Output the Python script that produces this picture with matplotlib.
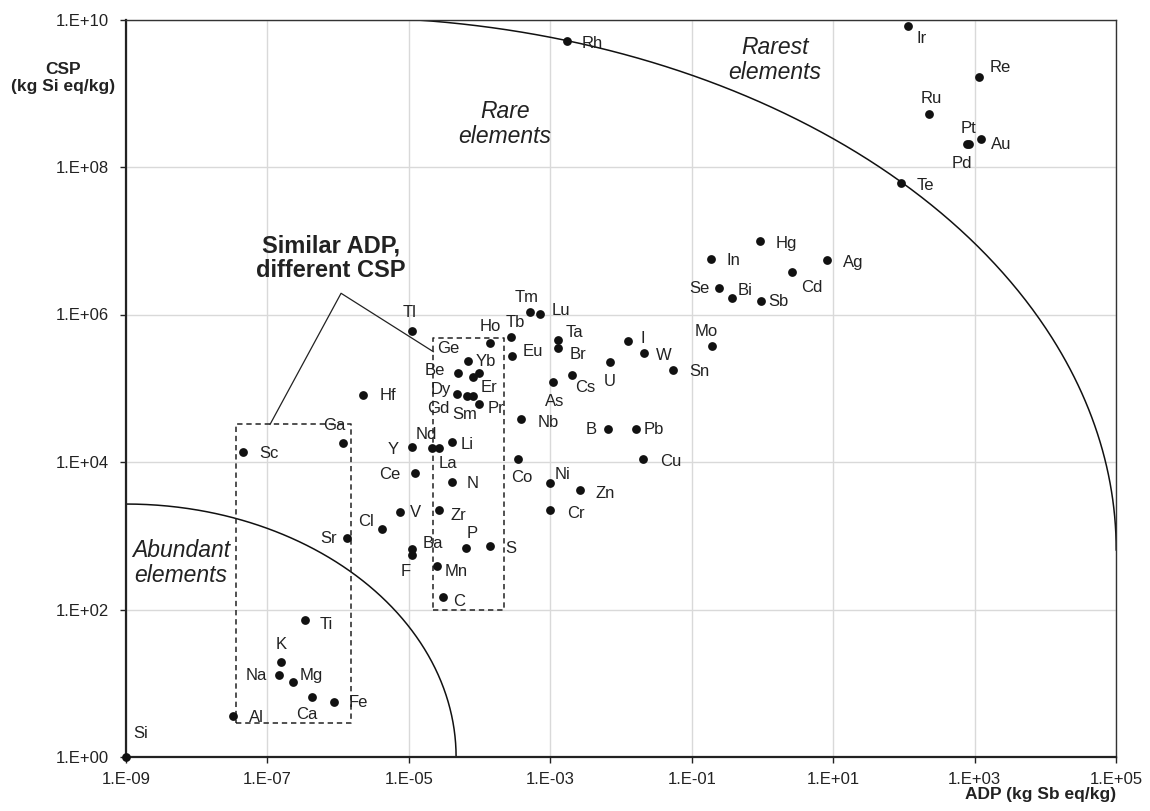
import numpy as np
import matplotlib
matplotlib.use("Agg")
import matplotlib.pyplot as plt
from matplotlib.ticker import FixedLocator, FuncFormatter, NullLocator

plt.rcParams['font.family'] = ['Liberation Sans', 'DejaVu Sans']

# ---------------- data ----------------
elements = ["Si", "Al", "Na", "K", "Mg", "Ti", "Ca", "Fe", "Sc", "Ga", "Sr", "Cl", "V",
            "Ba", "F", "Ce", "Y", "Tl", "Hf", "Nd", "La", "Li", "N", "Zr", "P", "S",
            "Mn", "C", "Co", "Ni", "Zn", "Cr", "Nb", "B", "Pb", "Cu", "As", "Cs", "U",
            "I", "W", "Sn", "Mo", "Ta", "Br", "Eu", "Tb", "Tm", "Lu", "Ho", "Ge", "Be",
            "Er", "Yb", "Dy", "Gd", "Sm", "Pr", "Hg", "In", "Ag", "Cd", "Se", "Bi", "Sb",
            "Rh", "Ir", "Re", "Ru", "Pt", "Pd", "Au", "Te"]
adp = [1e-9, 3.3e-8, 1.47e-7, 1.54e-7, 2.3e-7, 3.37e-7, 4.3e-7, 8.6e-7, 4.5e-8, 1.16e-6,
       1.32e-6, 4.2e-6, 7.5e-6, 1.11e-5, 1.11e-5, 1.22e-5, 1.1e-5, 1.1e-5, 2.25e-6,
       2.15e-5, 2.65e-5, 4.08e-5, 4.08e-5, 2.65e-5, 6.44e-5, 1.41e-4, 2.48e-5, 3.05e-5,
       3.47e-4, 9.9e-4, 2.64e-3, 9.9e-4, 3.86e-4, 6.5e-3, 1.62e-2, 2.07e-2, 1.1e-3,
       2.05e-3, 7.0e-3, 1.27e-2, 2.14e-2, 5.5e-2, 0.196, 1.28e-3, 1.28e-3, 2.91e-4,
       2.76e-4, 5.18e-4, 7.17e-4, 1.41e-4, 6.95e-5, 4.92e-5, 8.0e-5, 9.9e-5, 4.85e-5,
       6.6e-5, 8.0e-5, 9.9e-5, 0.91, 0.186, 8.2, 2.6, 0.247, 0.37, 0.95,
       1.71e-3, 114, 1150, 226, 778, 840, 1250, 91]
csp = [1.0, 3.6, 12.9, 19.6, 10.3, 71, 6.6, 5.6, 1.38e4, 1.83e4,
       940, 1220, 2120, 660, 543, 7160, 1.61e4, 6.0e5, 8.1e4,
       1.53e4, 1.53e4, 1.85e4, 5360, 2230, 676, 733, 393, 148,
       1.1e4, 5140, 4170, 2230, 3.87e4, 2.8e4, 2.8e4, 1.1e4, 1.22e5,
       1.51e5, 2.29e5, 4.37e5, 3.03e5, 1.77e5, 3.78e5, 4.51e5, 3.48e5, 2.76e5,
       5.0e5, 1.09e6, 1.02e6, 4.07e5, 2.34e5, 1.6e5, 1.43e5, 1.6e5, 8.36e4,
       7.9e4, 7.9e4, 6.06e4, 1.0e7, 5.7e6, 5.5e6, 3.8e6, 2.31e6, 1.66e6, 1.52e6,
       5.16e9, 8.2e9, 1.64e9, 5.18e8, 2.05e8, 2.05e8, 2.38e8, 6.0e7]

x_ticks = [1e-9, 1e-7, 1e-5, 1e-3, 1e-1, 1e1, 1e3, 1e5]
y_ticks = [1e0, 1e2, 1e4, 1e6, 1e8, 1e10]

# label offsets (pixels: right, down) relative to each marker
label_offsets = {
    "Si": (15, -23), "Al": (23, 2), "Na": (-23, 0), "K": (0, -17), "Mg": (18, -7),
    "Ti": (22, 4), "Ca": (-5, 18), "Fe": (25, 1), "Sc": (26, 2), "Ga": (-8, -17),
    "Sr": (-18, 1), "Cl": (-16, -8), "V": (15, 1), "Ba": (21, -6), "F": (-6, 16),
    "Ce": (-25, 2), "Y": (-19, 3), "Tl": (-2, -18), "Hf": (25, 1), "Nd": (-6, -14),
    "La": (9, 15), "Li": (15, 2), "N": (21, 2), "Zr": (20, 5), "P": (6, -15),
    "S": (21, 3), "Mn": (19, 6), "C": (16, 5), "Co": (4, 19), "Ni": (13, -9),
    "Zn": (25, 3), "Cr": (26, 3), "Nb": (27, 4), "B": (-17, 0), "Pb": (18, 0),
    "Cu": (27, 3), "As": (1, 20), "Cs": (13, 12), "U": (0, 20), "I": (14, -3),
    "W": (19, 3), "Sn": (26, 2), "Mo": (-6, -14), "Ta": (17, -8), "Br": (20, 6),
    "Eu": (20, -4), "Tb": (5, -14), "Tm": (-3, -14), "Lu": (21, -3), "Ho": (0, -17),
    "Ge": (-20, -13), "Be": (-23, -3), "Er": (16, 11), "Yb": (7, -12), "Dy": (-17, -4),
    "Gd": (-28, 13), "Sm": (-8, 19), "Pr": (17, 4), "Hg": (27, 3), "In": (23, 2),
    "Ag": (26, 3), "Cd": (20, 16), "Se": (-20, 1), "Bi": (13, -8), "Sb": (18, 0),
    "Rh": (25, 3), "Ir": (14, 13), "Re": (21, -10), "Ru": (2, -16), "Pt": (2, -16),
    "Pd": (-7, 19), "Au": (20, 5), "Te": (24, 2),
}

# region boundary arcs (ellipses in log10 space): centre x, centre y, semi-axes
big_arc = dict(cx=-5.973, cy=2.807, a=10.976, b=7.222)
small_arc = dict(cx=-9.0, cy=0.0, a=4.668, b=3.43)

# dashed boxes (x0, x1, y0, y1)
box_sc = (3.56e-8, 1.52e-6, 2.86, 3.24e4)
box_ge = (2.22e-5, 2.2e-4, 99, 4.85e5)
# callout line: left end, apex, right end
callout_x = [1.09e-7, 1.1e-6, 2.22e-5]
callout_y = [3.24e4, 1.94e6, 3.13e5]

# ---------------- figure ----------------
fig = plt.figure(figsize=(11.5, 8.11), dpi=100)
ax = fig.add_axes([126 / 1150, 1 - 757 / 811, (1116 - 126) / 1150, (757 - 19.5) / 811])
ax.set_xscale('log')
ax.set_yscale('log')
ax.set_xlim(1e-9, 1e5)
ax.set_ylim(1e0, 1e10)

ax.xaxis.set_major_locator(FixedLocator(x_ticks))
ax.yaxis.set_major_locator(FixedLocator(y_ticks))
ax.xaxis.set_minor_locator(NullLocator())
ax.yaxis.set_minor_locator(NullLocator())


def fmt(v, pos):
    e = int(round(np.log10(v)))
    return "1.E%s%02d" % ("+" if e >= 0 else "-", abs(e))


ax.xaxis.set_major_formatter(FuncFormatter(fmt))
ax.yaxis.set_major_formatter(FuncFormatter(fmt))
ax.tick_params(axis='both', direction='out', length=4, width=1, colors='#222222',
               labelsize=12, labelcolor='#222222')
ax.tick_params(axis='x', pad=7)
ax.tick_params(axis='y', pad=8)
ax.grid(True, color='#d9d9d9', lw=1)
ax.set_axisbelow(True)
for s in ['left', 'bottom']:
    ax.spines[s].set_linewidth(1.6)
    ax.spines[s].set_color('#222222')
for s in ['top', 'right']:
    ax.spines[s].set_linewidth(1.0)
    ax.spines[s].set_color('#333333')

# arcs
t = np.linspace(0, np.pi / 2, 400)
for arc in (big_arc, small_arc):
    xs = 10 ** (arc['cx'] + arc['a'] * np.cos(t))
    ys = 10 ** (arc['cy'] + arc['b'] * np.sin(t))
    ax.plot(xs, ys, color='#111111', lw=1.1, zorder=2)

# dashed boxes
for (x0, x1, y0, y1) in (box_sc, box_ge):
    ax.plot([x0, x1, x1, x0, x0], [y0, y0, y1, y1, y0], color='#222222', lw=1.1,
            ls=(0, (3.5, 2.5)), zorder=2)

ax.plot(callout_x, callout_y, color='#222222', lw=0.9, zorder=2)

# points
ax.scatter(adp, csp, s=40, color='#111111', zorder=4, clip_on=False, linewidths=0)
for name, xv, yv in zip(elements, adp, csp):
    dx, dy = label_offsets[name]
    ax.annotate(name, (xv, yv), xytext=(dx, -dy), textcoords='offset pixels',
                ha='center', va='center', fontsize=12, color='#222222', zorder=5,
                annotation_clip=False)

# region texts (axes pixel coordinates converted)
def px(xp, yp):
    return ((xp - 126) / 990, (757 - yp) / 737.5)

ax.text(*px(775, 60), "Rarest\nelements", transform=ax.transAxes, ha='center', va='center',
        fontsize=16.5, style='italic', color='#222222', linespacing=1.1)
ax.text(*px(505, 124), "Rare\nelements", transform=ax.transAxes, ha='center', va='center',
        fontsize=16.5, style='italic', color='#222222', linespacing=1.1)
ax.text(*px(181, 563), "Abundant\nelements", transform=ax.transAxes, ha='center', va='center',
        fontsize=16.5, style='italic', color='#222222', linespacing=1.1)
ax.text(*px(331, 258), "Similar ADP,\ndifferent CSP", transform=ax.transAxes, ha='center',
        va='center', fontsize=17, weight='bold', color='#222222', linespacing=1.1)

fig.text(63 / 1150, 1 - 78 / 811, "CSP\n(kg Si eq/kg)", ha='center', va='center',
         fontsize=12.5, weight='bold', color='#222222', linespacing=1.2)
fig.text(1116 / 1150, 1 - 795 / 811, "ADP (kg Sb eq/kg)", ha='right', va='center',
         fontsize=12.5, weight='bold', color='#222222')

fig.savefig("out.png", dpi=100)
